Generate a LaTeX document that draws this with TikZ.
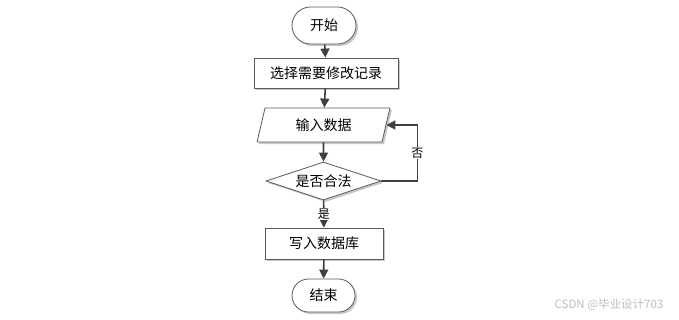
\documentclass[tikz,border=0pt]{standalone}
\usepackage{fontspec}
\setmainfont{Noto Sans CJK SC}
\newfontfamily\cjk{Noto Sans CJK SC}
\usetikzlibrary{shapes.geometric,shapes.misc,arrows.meta,shadows}
\definecolor{lineC}{RGB}{64,64,64}
\definecolor{borderC}{RGB}{90,90,90}
\definecolor{shadowC}{RGB}{200,200,200}
\definecolor{wmC}{RGB}{190,190,190}
\begin{document}
\begin{tikzpicture}[x=1pt,y=-1pt,
  base/.style={draw=borderC, line width=0.8pt, fill=white, inner sep=0pt,
    font=\cjk\fontsize{14}{16}\selectfont,
    drop shadow={shadow xshift=2pt, shadow yshift=-2pt, fill=shadowC, opacity=1}},
  term/.style={base, rounded rectangle, minimum width=64pt, minimum height=37pt},
  procbox/.style={base, rectangle, minimum width=144pt, minimum height=30pt},
  iobox/.style={base, trapezium, trapezium left angle=73.6, trapezium right angle=106.4,
    trapezium stretches=true, minimum width=133pt, minimum height=34pt},
  decbox/.style={base, diamond, aspect=3, minimum width=115pt, minimum height=38pt},
  flow/.style={draw=lineC, line width=1.6pt, -{Triangle[length=9pt,width=9pt]}},
  lbl/.style={fill=white, inner sep=1pt, font=\cjk\fontsize{12}{14}\selectfont, text=black}
]
\useasboundingbox (0,0) rectangle (679,319);
\node[term] (start) at (324,25.5) {开始};
\node[procbox] (sel) at (326,73) {选择需要修改记录};
\node[iobox] (inp) at (323.5,125) {输入数据};
\node[decbox] (dec) at (323.5,181) {是否合法};
\node[procbox, minimum width=118pt, minimum height=31pt] (wr) at (324,243.5) {写入数据库};
\node[term, minimum width=63pt, minimum height=33pt] (end) at (323.5,295.5) {结束};

\draw[flow] (start) -- (sel);
\draw[flow] (sel) -- (inp);
\draw[flow] (inp) -- (dec);
\draw[flow] (dec) -- node[lbl, pos=0.5] {是} (wr);
\draw[flow] (wr) -- (end);
\draw[flow] (dec.east) -- ++(36,0) |- node[lbl, pos=0.25] {否} (inp.east);

\node[text=wmC, font=\fontsize{11.5}{13}\selectfont] (wm) at (609,305) {CSDN @毕业设计703};
\end{tikzpicture}
\end{document}
